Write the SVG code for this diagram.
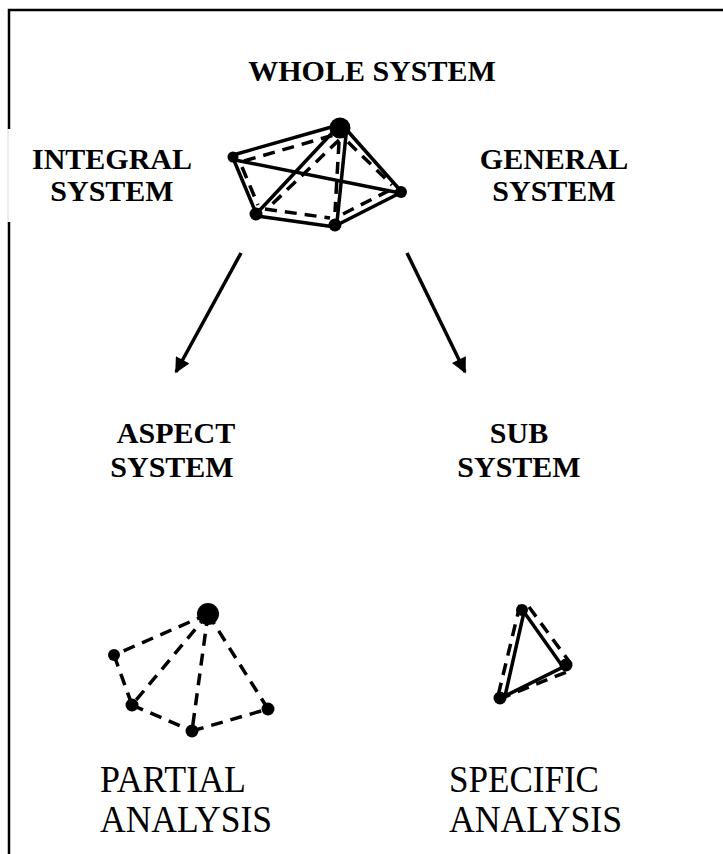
<svg xmlns="http://www.w3.org/2000/svg" width="723" height="854" viewBox="0 0 723 854">
<defs>
<style>
.b{font-family:"Liberation Serif","Times New Roman",serif;font-weight:bold;font-size:30px;fill:#000;text-anchor:middle}
.r{font-family:"Liberation Serif","Times New Roman",serif;font-size:38px;fill:#000;text-anchor:start}
.s{stroke:#000;stroke-width:3.5;fill:none;stroke-linecap:butt}
.d{stroke:#000;stroke-width:3.5;fill:none;stroke-dasharray:12 8}
.n{fill:#000}
.bd{stroke:#000;stroke-width:2.5;fill:none}
</style>
<marker id="ah" viewBox="0 0 10 10" refX="9" refY="5" markerWidth="5.2" markerHeight="4.4" markerUnits="strokeWidth" orient="auto">
<path d="M0,0 L10,5 L0,10 z" fill="#000"/>
</marker>
</defs>
<rect width="723" height="854" fill="#fff"/>
<g id="border">
<path class="bd" d="M9,854 V222 M9,129 V10 H723"/>
<line x1="8" y1="129" x2="8" y2="222" stroke="#ddd" stroke-width="1"/>
</g>
<g id="labels-top">
<text class="b" x="372" y="81">WHOLE SYSTEM</text>
<text class="b" x="112" y="169">INTEGRAL</text>
<text class="b" x="112" y="201">SYSTEM</text>
<text class="b" x="554" y="169">GENERAL</text>
<text class="b" x="554" y="201">SYSTEM</text>
</g>
<g id="whole-system">
<line class="s" x1="233" y1="155" x2="335" y2="126"/>
<line class="d" x1="244" y1="161" x2="334" y2="135"/>
<line class="s" x1="233" y1="158" x2="256" y2="213"/>
<line class="d" x1="242" y1="167" x2="258" y2="205"/>
<line class="s" x1="257" y1="216" x2="335" y2="227"/>
<line class="d" x1="265" y1="209" x2="330" y2="218"/>
<line class="s" x1="335" y1="226" x2="400" y2="193"/>
<line class="d" x1="343" y1="214" x2="394" y2="188"/>
<line class="s" x1="345" y1="128" x2="400" y2="190"/>
<line class="d" x1="348" y1="142" x2="392" y2="185"/>
<line class="s" x1="235" y1="160" x2="400" y2="193"/>
<line class="s" x1="332" y1="133" x2="258" y2="212"/>
<line class="d" x1="339" y1="140" x2="266" y2="210"/>
<line class="s" x1="346" y1="135" x2="337" y2="222"/>
<line class="d" x1="339" y1="142" x2="335" y2="212"/>
<circle class="n" cx="340" cy="128" r="10.5"/>
<circle class="n" cx="233" cy="157" r="5.5"/>
<circle class="n" cx="401" cy="192" r="6"/>
<circle class="n" cx="256" cy="214" r="6.5"/>
<circle class="n" cx="335" cy="225" r="6.5"/>
</g>
<g id="connectors">
<line class="s" x1="241" y1="253" x2="176" y2="372" marker-end="url(#ah)"/>
<line class="s" x1="407" y1="253" x2="465" y2="372" marker-end="url(#ah)"/>
</g>
<g id="aspect-system">
<text class="b" x="176" y="443">ASPECT</text>
<text class="b" x="172" y="477">SYSTEM</text>
</g>
<g id="sub-system">
<text class="b" x="519" y="443">SUB</text>
<text class="b" x="519" y="477">SYSTEM</text>
</g>
<g id="partial-analysis">
<line class="d" x1="208" y1="614" x2="114" y2="655"/>
<line class="d" x1="114" y1="655" x2="132" y2="705"/>
<line class="d" x1="132" y1="705" x2="192" y2="731"/>
<line class="d" x1="192" y1="731" x2="268" y2="709"/>
<line class="d" x1="208" y1="614" x2="132" y2="705"/>
<line class="d" x1="208" y1="614" x2="192" y2="731"/>
<line class="d" x1="208" y1="614" x2="268" y2="709"/>
<circle class="n" cx="208" cy="614" r="11"/>
<circle class="n" cx="114" cy="655" r="6"/>
<circle class="n" cx="132" cy="705" r="6.5"/>
<circle class="n" cx="192" cy="731" r="6.5"/>
<circle class="n" cx="268" cy="709" r="6.5"/>
<text class="r" x="100" y="792" textLength="146" lengthAdjust="spacingAndGlyphs">PARTIAL</text>
<text class="r" x="100" y="832" textLength="172" lengthAdjust="spacingAndGlyphs">ANALYSIS</text>
</g>
<g id="specific-analysis">
<polygon class="s" points="524,612 563,667 505,696"/>
<polyline class="d" points="520,605 497,700 569,671"/>
<line class="d" x1="529" y1="607" x2="571" y2="664"/>
<circle class="n" cx="522" cy="610" r="6"/>
<circle class="n" cx="566" cy="665" r="6.5"/>
<circle class="n" cx="500" cy="698" r="6.5"/>
<text class="r" x="449" y="792" textLength="150" lengthAdjust="spacingAndGlyphs">SPECIFIC</text>
<text class="r" x="449" y="832" textLength="173" lengthAdjust="spacingAndGlyphs">ANALYSIS</text>
</g>
</svg>
